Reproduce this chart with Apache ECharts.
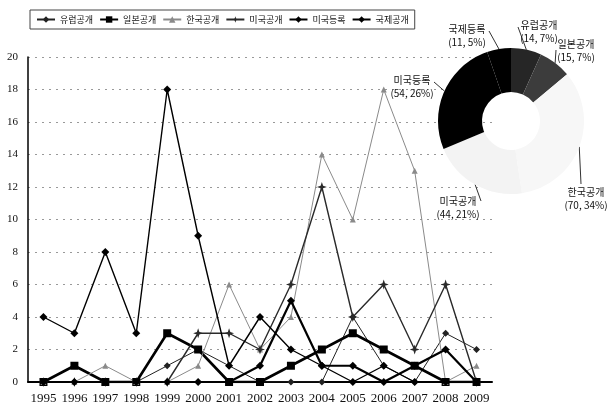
<!DOCTYPE html>
<html>
<head>
<meta charset="utf-8">
<script src="https://cdn.jsdelivr.net/npm/echarts@6/dist/echarts.min.js"></script>
<style>
  html, body { margin: 0; padding: 0; background: #fff; }
  #container { width: 608px; height: 408px; }
</style>
</head>
<body>
<div id="container"></div>
<script type="text/javascript">
    // 연도
    var years = ['1995', '1996', '1997', '1998', '1999', '2000', '2001', '2002',
                 '2003', '2004', '2005', '2006', '2007', '2008', '2009'];

    // 연도별 건수
    var euroPub  = [0, 0, 0, 0, 1, 2, 1, 0, 0, 0, 4, 1, 0, 3, 2];
    var japanPub = [0, 1, 0, 0, 3, 2, 0, 0, 1, 2, 3, 2, 1, 0, 0];
    var koreaPub = [0, 0, 1, 0, 0, 1, 6, 2, 4, 14, 10, 18, 13, 0, 1];
    var usPub    = [0, 0, 0, 0, 0, 3, 3, 2, 6, 12, 4, 6, 2, 6, 0];
    var usReg    = [4, 3, 8, 3, 18, 9, 1, 4, 2, 1, 0, 1, 0, 0, 0];
    var intlPub  = [0, 0, 0, 0, 0, 0, 0, 1, 5, 1, 1, 0, 1, 2, 0];

    // 파이 (합계)
    var pieNames  = ['유럽공개', '일본공개', '한국공개', '미국공개', '미국등록', '국제등록'];
    var pieValues = [14, 15, 70, 44, 54, 11];
    var pieColors = ['#262626', '#3c3c3c', '#f7f7f7', '#f3f3f3', '#000000', '#000000'];

    var yTicks = { min: 0, max: 20, interval: 2 };

    // 파이 라벨 위치 (라벨 중심, 지시선 끝)
    var pieLabelAt = {
        '유럽공개': [539, 32], '일본공개': [576, 51], '한국공개': [586, 199],
        '미국공개': [458, 208], '미국등록': [412, 87], '국제등록': [467, 36]
    };
    var pieLineEnd = {
        '유럽공개': [518, 27], '일본공개': [556, 50], '한국공개': [581, 184],
        '미국공개': [481, 201], '미국등록': [434, 82], '국제등록': [489, 31]
    };

    var starPath = 'path://M0,-10L2.5,-2.5L10,0L2.5,2.5L0,10L-2.5,2.5L-10,0L-2.5,-2.5Z';

    var dom = document.getElementById('container');
    var myChart = echarts.init(dom, null, { renderer: 'canvas' });

    function lineSeries(name, data, color, width, symbol, size) {
        return {
            name: name,
            type: 'line',
            data: data,
            symbol: symbol,
            symbolSize: size,
            showAllSymbol: true,
            animation: false,
            lineStyle: { color: color, width: width },
            itemStyle: { color: color },
            z: 3
        };
    }

    var pieData = [];
    for (var i = 0; i < pieNames.length; i++) {
        pieData.push({ name: pieNames[i], value: pieValues[i], itemStyle: { color: pieColors[i] } });
    }

    var option = {
        backgroundColor: '#fff',
        animation: false,
        textStyle: { fontFamily: '"Noto Sans CJK KR", sans-serif' },
        legend: {
            left: 30,
            top: 10,
            padding: [5, 6],
            itemGap: 6,
            itemWidth: 18,
            itemHeight: 8,
            borderColor: '#444',
            borderWidth: 1,
            textStyle: { fontSize: 9, color: '#111', fontFamily: '"Noto Sans CJK KR"' },
            data: ['유럽공개', '일본공개', '한국공개', '미국공개', '미국등록', '국제공개']
        },
        grid: { left: 28, right: 116, top: 57, bottom: 26 },
        xAxis: {
            type: 'category',
            data: years,
            boundaryGap: true,
            axisLine: { onZero: true, lineStyle: { color: '#000', width: 2 } },
            axisTick: { show: false },
            axisLabel: { color: '#111', fontSize: 13, margin: 10, interval: 0,
                         fontFamily: '"Liberation Serif", serif' },
            splitLine: { show: false }
        },
        yAxis: {
            type: 'value',
            min: yTicks.min,
            max: yTicks.max,
            interval: yTicks.interval,
            axisLine: { show: true, lineStyle: { color: '#000', width: 1.5 } },
            axisTick: { show: false },
            axisLabel: { color: '#111', fontSize: 11, margin: 10,
                         fontFamily: '"Liberation Serif", serif' },
            splitLine: { show: true, lineStyle: { color: '#999', type: [2, 5], width: 1 } }
        },
        series: [
            lineSeries('유럽공개', euroPub, '#222', 1, 'diamond', 7),
            lineSeries('일본공개', japanPub, '#000', 2.6, 'rect', 8),
            lineSeries('한국공개', koreaPub, '#8a8a8a', 1, 'triangle', 6),
            lineSeries('미국공개', usPub, '#2a2a2a', 1.4, starPath, 10),
            lineSeries('미국등록', usReg, '#000', 1.4, 'diamond', 8),
            lineSeries('국제공개', intlPub, '#000', 2.2, 'diamond', 8),
            {
                name: '특허',
                type: 'pie',
                center: [511, 121],
                radius: [29, 73],
                startAngle: 90,
                clockwise: true,
                percentPrecision: 0,
                avoidLabelOverlap: false,
                animation: false,
                z: 5,
                data: pieData,
                label: {
                    show: true,
                    position: 'outside',
                    alignTo: 'none',
                    overflow: 'none',
                    formatter: '{b}\n({c}, {d}%)',
                    fontSize: 10,
                    lineHeight: 13,
                    color: '#111',
                    fontFamily: '"Noto Sans CJK KR"'
                },
                labelLine: { show: true, length: 6, length2: 6, lineStyle: { color: '#333', width: 1 } },
                labelLayout: function (params) {
                    var name = pieNames[params.dataIndex];
                    var p = pieLabelAt[name];
                    var end = pieLineEnd[name];
                    var pts = params.labelLinePoints;
                    return {
                        x: p[0],
                        y: p[1],
                        align: 'center',
                        verticalAlign: 'middle',
                        labelLinePoints: [pts[0], end, end]
                    };
                },
                emphasis: { disabled: true }
            }
        ]
    };
    if (option && typeof option === "object") {
        myChart.setOption(option, true);
    }
</script>
</body>
</html>
